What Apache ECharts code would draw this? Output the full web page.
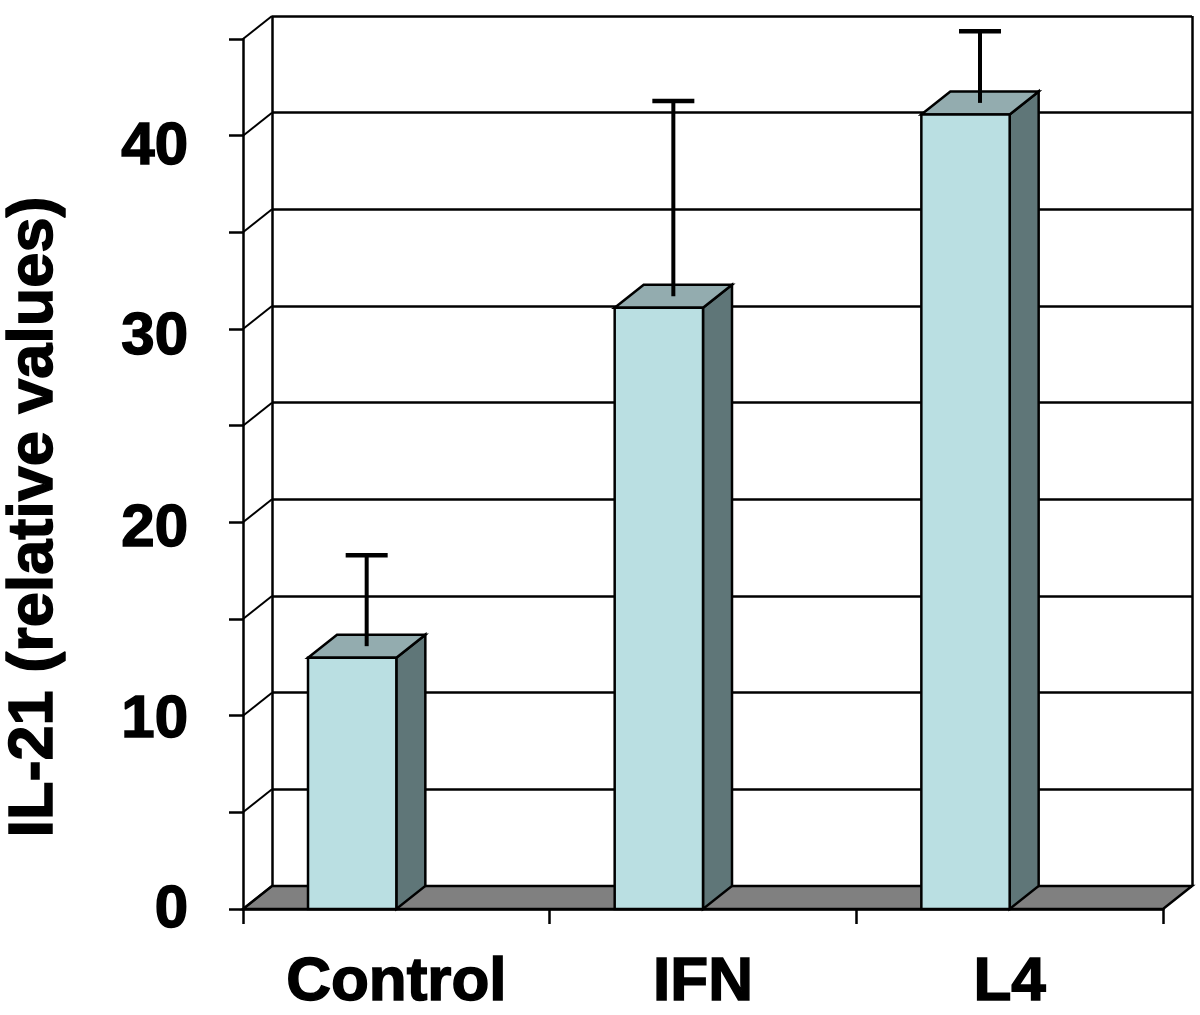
<!DOCTYPE html>
<html><head><meta charset="utf-8">
<script src="https://cdn.jsdelivr.net/npm/echarts@6/dist/echarts.min.js"></script>
<style>html,body{margin:0;padding:0;background:#fff}#chart{width:1200px;height:1015px}</style>
</head><body><div id="chart"></div>
<script>
const categories = ['Control', 'IFN', 'L4'];
const barValues = [13.0, 31.1, 41.1];
const errorTops = [17.7, 41.2, 44.8];
const yTickValues = [0, 5, 10, 15, 20, 25, 30, 35, 40, 45];
const yLabelValues = [0, 10, 20, 30, 40];
const yAxisTitle = 'IL-21 (relative values)';

const DX = 29, DY = -23;
const LW = 2.5;
const FONT = '"Liberation Sans", Arial, sans-serif';
const labelShift = {0: 1, 10: 5, 20: 7, 30: 8, 40: 12};
const rich = {};
yLabelValues.forEach(v => {
  rich['v' + v] = {fontFamily: FONT, fontWeight: 'bold', fontSize: 60, lineHeight: 60, color: '#000',
    textBorderColor: '#000', textBorderWidth: 1.5, padding: [labelShift[v] * 2, 0, 0, 0]};
});

const chart = echarts.init(document.getElementById('chart'), null, {renderer: 'canvas'});
const option = {
  animation: false,
  backgroundColor: '#fff',
  grid: [
    {left: 243, top: 39, width: 920, height: 870},
    {left: 272, top: 16, width: 920, height: 870}
  ],
  xAxis: [
    {type: 'category', gridIndex: 0, data: categories, boundaryGap: true,
     axisLine: {show: true, lineStyle: {color: '#000', width: LW}},
     axisTick: {show: true, length: 15, interval: 0, lineStyle: {color: '#000', width: LW}},
     axisLabel: {interval: 0, margin: 43, fontFamily: FONT, fontWeight: 'bold', fontSize: 62, lineHeight: 62, color: '#000',
       textBorderColor: '#000', textBorderWidth: 1.5},
     splitLine: {show: false}},
    {type: 'value', gridIndex: 1, min: 0, max: 1, interval: 1,
     axisLine: {show: false}, axisTick: {show: false}, axisLabel: {show: false},
     splitLine: {show: true, lineStyle: {color: '#000', width: LW}}}
  ],
  yAxis: [
    {type: 'value', gridIndex: 0, min: 0, max: 45, interval: 5,
     axisLine: {show: true, lineStyle: {color: '#000', width: LW}},
     axisTick: {show: true, length: 14, lineStyle: {color: '#000', width: LW}},
     splitLine: {show: false},
     axisLabel: {margin: 55, fontFamily: FONT, fontWeight: 'bold', fontSize: 60, color: '#000',
       formatter: v => yLabelValues.includes(v) ? `{v${v}|${v}}` : '', rich: rich}},
    {type: 'value', gridIndex: 1, min: 0, max: 45, interval: 5,
     axisLine: {show: false}, axisTick: {show: false}, axisLabel: {show: false},
     splitLine: {show: true, lineStyle: {color: '#000', width: LW}}}
  ],
  graphic: [{
    type: 'text', x: 35, y: 517, rotation: Math.PI / 2, z: 10,
    style: {text: yAxisTitle, fontFamily: FONT, fontWeight: 'bold', fontSize: 63, fill: '#000',
      stroke: '#000', lineWidth: 1.5, align: 'center', verticalAlign: 'middle'}
  }],
  series: [
    {
      type: 'custom', xAxisIndex: 0, yAxisIndex: 0, z: 1, silent: true,
      data: [[0, 0]],
      renderItem: function (params, api) {
        const cs = params.coordSys;
        const yb = api.coord([0, 0])[1];
        const x0 = cs.x, x1 = cs.x + cs.width;
        return {type: 'polygon',
          shape: {points: [[x0, yb], [x1, yb], [x1 + DX, yb + DY], [x0 + DX, yb + DY]]},
          style: {fill: '#808080', stroke: '#000', lineWidth: LW}};
      }
    },
    {
      type: 'custom', xAxisIndex: 0, yAxisIndex: 0, z: 2, silent: true,
      data: yTickValues.map(v => [0, v]),
      renderItem: function (params, api) {
        const cs = params.coordSys;
        const y = api.coord([0, api.value(1)])[1];
        return {type: 'line', shape: {x1: cs.x, y1: y, x2: cs.x + DX, y2: y + DY},
          style: {stroke: '#000', lineWidth: 2}};
      }
    },
    {
      type: 'custom', xAxisIndex: 0, yAxisIndex: 0, z: 3, silent: true,
      data: categories.map((c, i) => [i, barValues[i], errorTops[i]]),
      renderItem: function (params, api) {
        const i = api.value(0), v = api.value(1), e = api.value(2);
        const top = api.coord([i, v]);
        const base = api.coord([i, 0]);
        const bw = api.size([1, 0])[0];
        const xr = top[0], xl = xr - 0.288 * bw;
        const yt = top[1], yb = base[1];
        const errY = api.coord([i, e])[1] + DY / 2;
        const xm = (xl + xr) / 2 + DX / 2, ym = yt + DY / 2;
        const edge = {stroke: '#000', lineWidth: LW, lineJoin: 'miter'};
        return {type: 'group', children: [
          {type: 'polygon', shape: {points: [[xr, yt], [xr + DX, yt + DY], [xr + DX, yb + DY], [xr, yb]]},
           style: Object.assign({fill: '#5F7678'}, edge)},
          {type: 'polygon', shape: {points: [[xl, yt], [xl + DX, yt + DY], [xr + DX, yt + DY], [xr, yt]]},
           style: Object.assign({fill: '#93ACAF'}, edge)},
          {type: 'rect', shape: {x: xl, y: yt, width: xr - xl, height: yb - yt},
           style: Object.assign({fill: '#BADFE2'}, edge)},
          {type: 'line', shape: {x1: xm, y1: ym, x2: xm, y2: errY}, style: {stroke: '#000', lineWidth: 4}},
          {type: 'line', shape: {x1: xm - 21, y1: errY, x2: xm + 21, y2: errY}, style: {stroke: '#000', lineWidth: 4.5}}
        ]};
      }
    }
  ]
};
chart.setOption(option);
</script>
</body></html>
